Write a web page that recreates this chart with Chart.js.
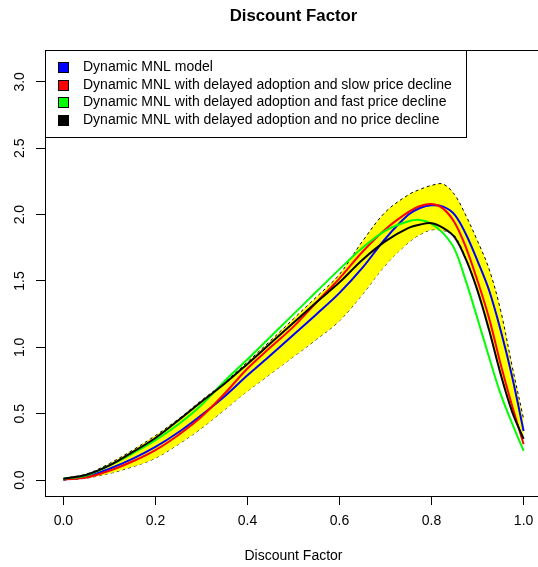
<!DOCTYPE html>
<html>
<head>
<meta charset="utf-8">
<script src="https://cdn.jsdelivr.net/npm/chart.js@4"></script>
<style>
  html, body { margin: 0; padding: 0; background: #fff; overflow: hidden; }
  #wrap { width: 546px; height: 567px; }
</style>
</head>
<body>
<div id="wrap"><canvas id="discountChart" width="546" height="567"></canvas></div>
<script>
// Data
const discount = [0, 0.05, 0.1, 0.15, 0.2, 0.25, 0.3, 0.35, 0.4, 0.45, 0.5, 0.55, 0.6, 0.65, 0.7, 0.75, 0.775, 0.8, 0.825, 0.85, 0.875, 0.9, 0.925, 0.95, 0.975, 1];
const mnlBase  = [0.005, 0.025, 0.085, 0.16, 0.25, 0.36, 0.49, 0.63, 0.79, 0.94, 1.094, 1.25, 1.41, 1.60, 1.82, 2.00, 2.05, 2.07, 2.06, 2.00, 1.85, 1.65, 1.43, 1.13, 0.78, 0.37];
const mnlSlow  = [0.005, 0.02, 0.07, 0.14, 0.226, 0.34, 0.477, 0.65, 0.84, 1.0, 1.156, 1.34, 1.52, 1.72, 1.89, 2.02, 2.065, 2.08, 2.045, 1.94, 1.75, 1.50, 1.22, 0.875, 0.56, 0.27];
const mnlFast  = [0.01, 0.035, 0.11, 0.20, 0.30, 0.42, 0.566, 0.745, 0.91, 1.08, 1.25, 1.42, 1.589, 1.75, 1.88, 1.95, 1.96, 1.93, 1.86, 1.74, 1.495, 1.214, 0.925, 0.649, 0.427, 0.22];
const mnlNone  = [0.01, 0.04, 0.11, 0.21, 0.317, 0.45, 0.59, 0.725, 0.875, 1.03, 1.185, 1.34, 1.49, 1.66, 1.80, 1.90, 1.925, 1.935, 1.90, 1.83, 1.66, 1.425, 1.13, 0.80, 0.515, 0.31];
const bandHigh = [0.012, 0.045, 0.125, 0.225, 0.335, 0.46, 0.60, 0.735, 0.89, 1.05, 1.215, 1.38, 1.55, 1.80, 2.02, 2.15, 2.19, 2.22, 2.23, 2.15, 1.99, 1.80, 1.59, 1.28, 0.86, 0.46];
const bandLow  = [0.0, 0.015, 0.05, 0.10, 0.165, 0.27, 0.39, 0.53, 0.67, 0.80, 0.93, 1.06, 1.20, 1.40, 1.62, 1.79, 1.85, 1.885, 1.88, 1.845, 1.675, 1.44, 1.145, 0.815, 0.53, 0.32];

const seriesNames = ["Dynamic MNL model", "Dynamic MNL with delayed adoption and slow price decline", "Dynamic MNL with delayed adoption and fast price decline", "Dynamic MNL with delayed adoption and no price decline"];
const seriesColors = ["#0000ff", "#ff0000", "#00ff00", "#000000"];
const xTicks = [0, 0.2, 0.4, 0.6, 0.8, 1.0];
const yTicks = [0, 0.5, 1.0, 1.5, 2.0, 2.5, 3.0];

const FONT = '"Liberation Sans", Arial, sans-serif';
const pts = arr => discount.map((x, i) => ({ x: x, y: arr[i] }));

const lines = [mnlBase, mnlSlow, mnlFast, mnlNone].map((arr, i) => ({
  label: seriesNames[i],
  data: pts(arr),
  borderColor: seriesColors[i],
  borderWidth: 2,
  pointRadius: 0,
  tension: 0.35,
  fill: false,
  order: 4 - i
}));

const band = [
  { label: 'upper', data: pts(bandHigh), borderColor: '#000', borderWidth: 1, borderDash: [3, 3],
    pointRadius: 0, tension: 0.35, fill: '+1', backgroundColor: '#ffff00', order: 10 },
  { label: 'lower', data: pts(bandLow), borderColor: '#000', borderWidth: 1, borderDash: [3, 3],
    pointRadius: 0, tension: 0.35, fill: false, order: 10 }
];

// title, frame and legend box drawn the way R does it
const rDecor = {
  id: 'rDecor',
  afterDatasetsDraw(chart) {
    const ctx = chart.ctx, a = chart.chartArea;
    const lx = Math.round(a.left) + 0.5, ly = Math.round(a.top) + 0.5;
    ctx.save();
    ctx.fillStyle = '#fff';
    ctx.fillRect(lx, ly, 421, 87);
    ctx.strokeStyle = '#000';
    ctx.lineWidth = 1;
    ctx.strokeRect(lx, ly, 421, 87);
    ctx.font = '14px ' + FONT;
    ctx.textBaseline = 'middle';
    seriesNames.forEach((name, i) => {
      const cy = a.top + 17 + i * 17.7;
      ctx.fillStyle = seriesColors[i];
      ctx.fillRect(lx + 13, Math.round(cy - 5) + 0.5, 10, 10);
      ctx.strokeStyle = '#000';
      ctx.strokeRect(lx + 13, Math.round(cy - 5) + 0.5, 10, 10);
      ctx.fillStyle = '#000';
      ctx.fillText(name, a.left + 38, cy);
    });
    ctx.restore();
  },
  afterDraw(chart) {
    const ctx = chart.ctx, a = chart.chartArea;
    ctx.save();
    ctx.strokeStyle = '#000';
    ctx.lineWidth = 1;
    ctx.strokeRect(Math.round(a.left) + 0.5, Math.round(a.top) + 0.5, Math.round(a.right - a.left), Math.round(a.bottom - a.top));
    ctx.fillStyle = '#000';
    ctx.font = 'bold 16.8px ' + FONT;
    ctx.textAlign = 'center';
    ctx.textBaseline = 'middle';
    ctx.fillText('Discount Factor', (a.left + a.right) / 2, 16);
    ctx.restore();
  }
};

const config = {
  type: 'line',
  data: { datasets: band.concat(lines) },
  options: {
    responsive: false,
    animation: false,
    devicePixelRatio: 1,
    layout: { padding: { top: 50, right: 4, left: 0, bottom: 0 } },
    plugins: { legend: { display: false }, tooltip: { enabled: false }, title: { display: false } },
    scales: {
      x: {
        type: 'linear',
        min: -0.04,
        max: 1.04,
        afterBuildTicks: s => { s.ticks = xTicks.map(v => ({ value: v })); },
        afterFit: s => { s.height = 71; },
        border: { display: false },
        grid: { drawOnChartArea: false, drawTicks: true, tickLength: 9, color: '#000' },
        ticks: { color: '#000', font: { family: FONT, size: 14 }, padding: 8, maxRotation: 0,
                 callback: v => v.toFixed(1) },
        title: { display: true, text: 'Discount Factor', color: '#000', font: { family: FONT, size: 14 },
                 padding: { top: 0, bottom: 2 } }
      },
      y: {
        type: 'linear',
        min: -0.12,
        max: 3.24,
        afterBuildTicks: s => { s.ticks = yTicks.map(v => ({ value: v })); },
        afterFit: s => { s.width = 45; },
        border: { display: false },
        grid: { drawOnChartArea: false, drawTicks: true, tickLength: 9, color: '#000' },
        ticks: { color: '#000', font: { family: FONT, size: 14 }, padding: 6, minRotation: 90, maxRotation: 90,
                 crossAlign: 'center', callback: v => v.toFixed(1) }
      }
    }
  },
  plugins: [rDecor]
};

window.addEventListener('DOMContentLoaded', (event) => {
  const discountChart = new Chart(document.getElementById("discountChart"), config);
});
</script>
</body>
</html>
